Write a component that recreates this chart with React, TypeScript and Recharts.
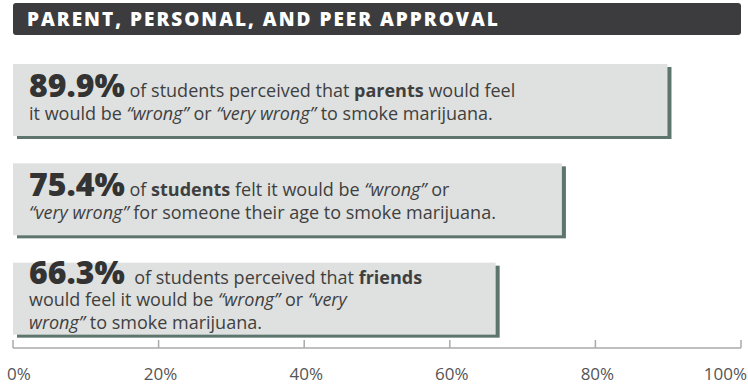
import { BarChart, Bar, XAxis, YAxis, LabelList } from "recharts";

const categories = ["Parents", "Personal", "Friends"];
const values = [89.9, 75.4, 66.3];
const ticks = [0, 20, 40, 60, 80, 100];
const title = "PARENT, PERSONAL, AND PEER APPROVAL";

// each statement: lines of [text, style] pieces; "pct" is replaced by the value
type Piece = [string, "" | "b" | "i" | "pct"];
const statements: Piece[][][] = [
  [
    [["", "pct"], [" of students perceived that ", ""], ["parents", "b"], [" would feel", ""]],
    [["it would be ", ""], ["“wrong”", "i"], [" or ", ""], ["“very wrong”", "i"], [" to smoke marijuana.", ""]],
  ],
  [
    [["", "pct"], [" of ", ""], ["students", "b"], [" felt it would be ", ""], ["“wrong”", "i"], [" or", ""]],
    [["“very wrong”", "i"], [" for someone their age to smoke marijuana.", ""]],
  ],
  [
    [["", "pct"], ["  of students perceived that ", ""], ["friends", "b"]],
    [["would feel it would be ", ""], ["“wrong”", "i"], [" or ", ""], ["“very", "i"]],
    [["wrong”", "i"], [" to smoke marijuana.", ""]],
  ],
];

const data = categories.map((c, i) => ({ name: c, value: values[i], idx: i }));

const FONT = "'Open Sans', sans-serif";
const BAR_FILL = "#dee1df";
const SHADOW = "#5d756d";

const BoxShape = (props: any) => {
  const { x, y, width, height } = props;
  return (
    <g>
      <rect x={x + 4} y={y + 3} width={width} height={height} fill={SHADOW} />
      <rect x={x} y={y} width={width} height={height} fill={BAR_FILL} />
    </g>
  );
};

const Statement = (props: any) => {
  const { x, y, height, index } = props;
  const lines = statements[index];
  const n = lines.length;
  const cy = y + height / 2;
  const first = cy - 3 - (n - 2) * 12;
  return (
    <g>
      {lines.map((line, li) => (
        <text
          key={li}
          x={x + 16}
          y={first + li * 22.5}
          fontFamily={FONT}
          fontSize={18}
          fill="#3f3f3f"
          style={{ whiteSpace: "pre" }}
        >
          {line.map(([t, s], k) => {
            if (s === "pct")
              return (
                <tspan key={k} fontSize={32} fontWeight={800} fill="#333">
                  {values[index] + "%"}
                </tspan>
              );
            return (
              <tspan
                key={k}
                fontWeight={s === "b" ? 700 : 400}
                fontStyle={s === "i" ? "italic" : "normal"}
              >
                {t}
              </tspan>
            );
          })}
        </text>
      ))}
    </g>
  );
};

const AxisTick = (props: any) => {
  const { x, y, payload } = props;
  const v = payload.value;
  let anchor: "start" | "middle" | "end" = "middle";
  let tx = x + 2;
  if (v === 0) {
    anchor = "start";
    tx = x - 6;
  } else if (v === 100) {
    anchor = "end";
    tx = x + 6;
  }
  return (
    <g>
      <line x1={x} x2={x} y1={y - 8} y2={y} stroke="#aaa" strokeWidth={1.5} />
      <text x={tx} y={y + 32} textAnchor={anchor} fontFamily={FONT} fontSize={17} fill="#555">
        {v}%
      </text>
    </g>
  );
};

export default function App() {
  return (
    <div style={{ position: "absolute", left: 0, top: 0, width: 748, height: 385, background: "#fff" }}>
      <div
        style={{
          position: "absolute",
          left: 13,
          top: 3,
          width: 728,
          height: 32,
          background: "#3c3c3e",
          borderRadius: 3,
        }}
      />
      <div
        style={{
          position: "absolute",
          left: 27,
          top: 3,
          height: 32,
          lineHeight: "32px",
          color: "#fff",
          fontFamily: FONT,
          fontWeight: 800,
          fontSize: 19,
          letterSpacing: 2,
          whiteSpace: "nowrap",
        }}
      >
        {title}
      </div>
      <div style={{ position: "absolute", left: 0, top: 0 }}>
        <BarChart
          width={748}
          height={385}
          data={data}
          layout="vertical"
          margin={{ top: 50, right: 7, bottom: 0, left: 13 }}
        >
          <XAxis
            type="number"
            domain={[0, 100]}
            ticks={ticks}
            height={37}
            axisLine={{ stroke: "#aaa", strokeWidth: 1.5 }}
            tickLine={false}
            tickSize={0}
            tickMargin={0}
            tick={<AxisTick />}
            interval={0}
          />
          <YAxis
            type="category"
            dataKey="name"
            width={0}
            tick={false}
            tickLine={false}
            axisLine={{ stroke: "#aaa", strokeWidth: 1.5 }}
          />
          <Bar dataKey="value" barSize={72} shape={<BoxShape />} isAnimationActive={false}>
            <LabelList dataKey="value" content={<Statement />} />
          </Bar>
        </BarChart>
      </div>
    </div>
  );
}
